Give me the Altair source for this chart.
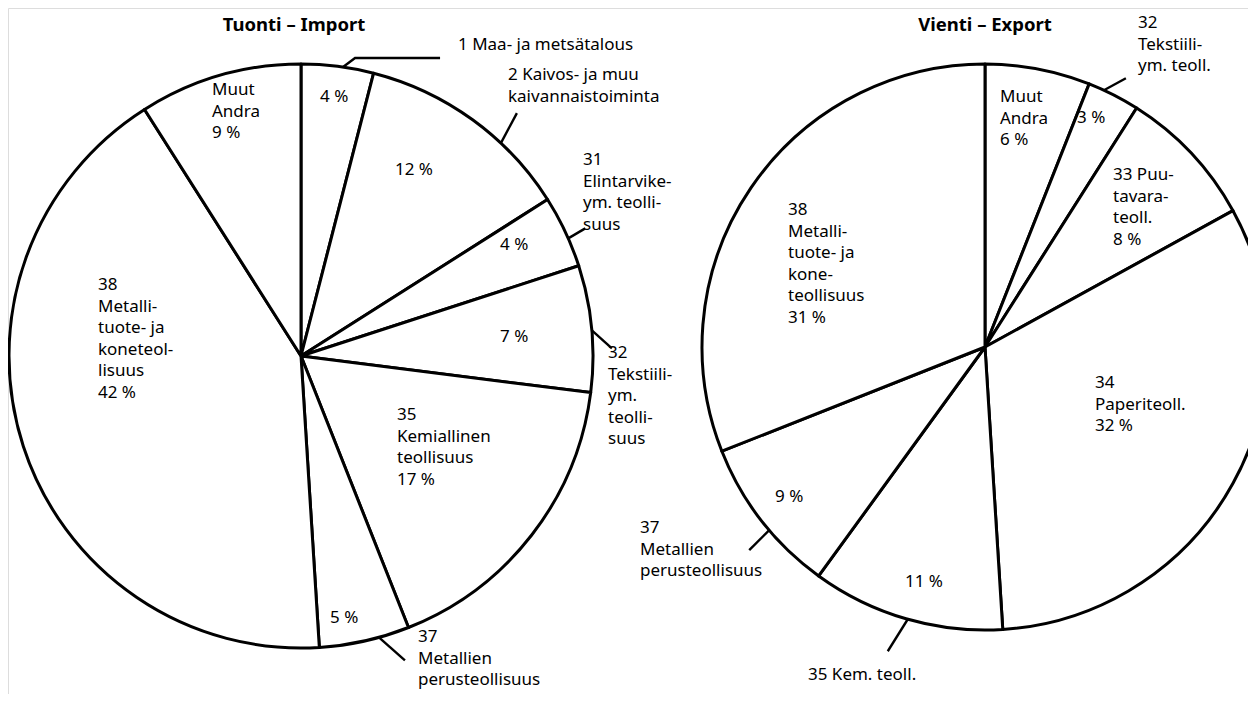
import math
import altair as alt
import pandas as pd

# ---------------- data ----------------
imp_cats = ["1 Maa- ja metsätalous", "2 Kaivos- ja muu kaivannaistoiminta",
            "31 Elintarvike- ym. teollisuus", "32 Tekstiili- ym. teollisuus",
            "35 Kemiallinen teollisuus", "37 Metallien perusteollisuus",
            "38 Metallituote- ja koneteollisuus", "Muut / Andra"]
imp_vals = [4, 12, 4, 7, 17, 5, 42, 9]

exp_cats = ["Muut / Andra", "32 Tekstiili- ym. teoll.", "33 Puutavarateoll.",
            "34 Paperiteoll.", "35 Kem. teoll.", "37 Metallien perusteollisuus",
            "38 Metallituote- ja koneteollisuus"]
exp_vals = [6, 3, 8, 32, 11, 9, 31]

titles = ["Tuonti – Import", "Vienti – Export"]

imp_labels = ["1  Maa- ja metsätalous", "2 Kaivos- ja muu\nkaivannaistoiminta",
              "31\nElintarvike-\nym. teolli-\nsuus", "32\nTekstiili-\nym.\nteolli-\nsuus",
              "35\nKemiallinen\nteollisuus\n17 %", "37\nMetallien\nperusteollisuus",
              "38\nMetalli-\ntuote- ja\nkoneteol-\nlisuus\n42 %", "Muut\nAndra\n9 %",
              "4 %", "12 %", "4 %", "7 %", "5 %"]
exp_labels = ["32\nTekstiili-\nym. teoll.", "Muut\nAndra\n6 %", "3 %",
              "33 Puu-\ntavara-\nteoll.\n8 %",
              "38\nMetalli-\ntuote- ja\nkone-\nteollisuus\n31 %",
              "34\nPaperiteoll.\n32 %", "9 %", "37\nMetallien\nperusteollisuus",
              "11 %", "35 Kem. teoll."]

# ---------------- layout (positions kept apart from the data) ----------------
W, H = 1240, 686
C1, R1 = (293, 348), 292
C2, R2 = (977, 339), 283
imp_label_x = [450, 500, 575, 600, 389, 410, 90, 204, 312, 387, 492, 492, 322]
imp_label_y = [29, 59, 144, 337, 399, 621, 269, 74, 81, 154, 229, 321, 602]
exp_label_x = [1130, 992, 1069, 1105, 780, 1087, 767, 632, 897, 800]
exp_label_y = [7, 81, 102, 159, 194, 367, 481, 512, 566, 659]
exp_label_lh = [20, 21.5, 21.5, 21.5, 21.5, 21.5, 21.5, 21.5, 21.5, 21.5]
imp_label_lh = [21.5] * len(imp_labels)

# leader lines: start angle on the rim (in % of the pie) + offsets of the following points
imp_leaders = [(2.3, [(12, -9), (97, -9)]), (12.0, [(16, -30)]), (18.4, [(17, -10)]),
               (23.6, [(20, 18)]), (45.7, [(26, 23)])]
exp_leaders = [(6.9, [(22, -12)]), (63.8, [(-20, 20)]), (54.4, [(-20, 32)])]

FONT = "Noto Sans"

imp_df = pd.DataFrame({"cat": imp_cats, "value": imp_vals, "idx": range(len(imp_vals))})
exp_df = pd.DataFrame({"cat": exp_cats, "value": exp_vals, "idx": range(len(exp_vals))})


def pie(df, c, r):
    return alt.Chart(df).mark_arc(fill="white", stroke="black", strokeWidth=3,
                                  strokeJoin="round").encode(
        theta=alt.Theta("value:Q", stack=True),
        order=alt.Order("idx:Q"),
        x=alt.value(c[0]), y=alt.value(c[1]), radius=alt.value(r),
        tooltip=["cat:N", "value:Q"])


lab_df = pd.DataFrame({
    "text": imp_labels + exp_labels,
    "x": imp_label_x + exp_label_x,
    "y": imp_label_y + exp_label_y,
    "lh": imp_label_lh + exp_label_lh,
})

rows = []
lid = 0
for leaders, c, r in ((imp_leaders, C1, R1), (exp_leaders, C2, R2)):
    for pct, offs in leaders:
        a = pct / 100 * 2 * math.pi
        sx, sy = c[0] + r * math.sin(a), c[1] - r * math.cos(a)
        rows.append({"id": lid, "k": 0, "x": sx, "y": sy})
        for k, (dx, dy) in enumerate(offs):
            rows.append({"id": lid, "k": k + 1, "x": sx + dx, "y": sy + dy})
        lid += 1
lead_df = pd.DataFrame(rows)

title_df = pd.DataFrame({"t": titles, "x": [286, 977], "y": [17, 17]})

labels = alt.Chart(lab_df).mark_text(align="left", baseline="top", fontSize=17, font=FONT,
                                     lineBreak="\n", lineHeight=21.5, color="black").encode(
    x=alt.X("x:Q", scale=None, axis=None), y=alt.Y("y:Q", scale=None, axis=None), text="text:N")

leaders = alt.Chart(lead_df).mark_line(color="black", strokeWidth=2.4).encode(
    x=alt.X("x:Q", scale=None, axis=None), y=alt.Y("y:Q", scale=None, axis=None),
    detail="id:N", order="k:Q")

ttl = alt.Chart(title_df).mark_text(align="center", baseline="middle", fontSize=18.5, font=FONT,
                                    fontWeight="bold", color="black").encode(
    x=alt.X("x:Q", scale=None, axis=None), y=alt.Y("y:Q", scale=None, axis=None), text="t:N")

chart = alt.layer(pie(imp_df, C1, R1), pie(exp_df, C2, R2), leaders, labels, ttl).properties(
    width=W, height=H, padding=0, autosize=alt.AutoSizeParams(type="none")
).configure_view(stroke=None).configure(background="white")

chart.save("out.html", embed_options={"renderer": "svg", "actions": False})
